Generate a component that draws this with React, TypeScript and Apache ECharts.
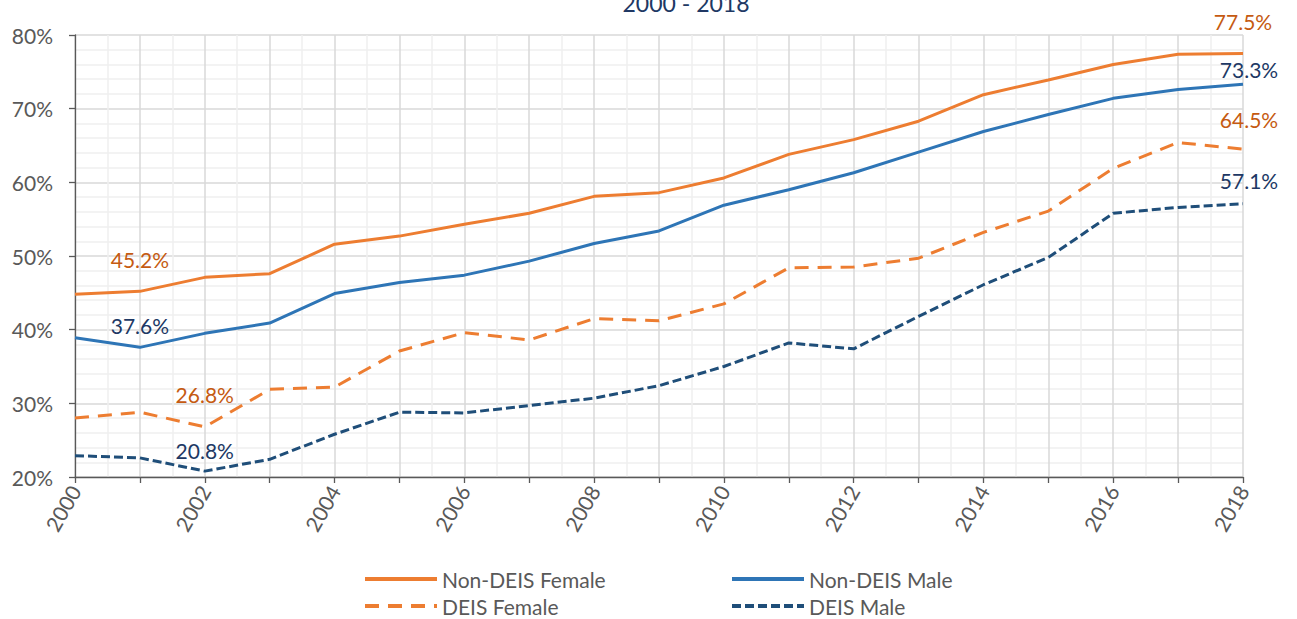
import React, { useEffect, useRef } from "react";
import * as echarts from "echarts";

const years = [2000, 2001, 2002, 2003, 2004, 2005, 2006, 2007, 2008, 2009, 2010, 2011, 2012, 2013, 2014, 2015, 2016, 2017, 2018];

const nonDeisFemale = [44.8, 45.2, 47.1, 47.6, 51.6, 52.7, 54.3, 55.8, 58.1, 58.6, 60.6, 63.8, 65.8, 68.3, 71.9, 73.9, 76.0, 77.4, 77.5];
const nonDeisMale = [38.9, 37.6, 39.5, 40.9, 44.9, 46.4, 47.4, 49.3, 51.7, 53.4, 56.9, 59.0, 61.3, 64.1, 66.9, 69.2, 71.4, 72.6, 73.3];
const deisFemale = [28.0, 28.8, 26.8, 31.9, 32.2, 37.1, 39.6, 38.6, 41.5, 41.2, 43.5, 48.4, 48.5, 49.7, 53.2, 56.1, 61.9, 65.4, 64.5];
const deisMale = [22.9, 22.6, 20.8, 22.4, 25.8, 28.8, 28.7, 29.7, 30.7, 32.4, 35.0, 38.2, 37.4, 41.8, 46.1, 49.8, 55.8, 56.6, 57.1];

const seriesNames = ["Non-DEIS Female", "Non-DEIS Male", "DEIS Female", "DEIS Male"];
const yTicks = [20, 30, 40, 50, 60, 70, 80];
const titleText = "2000 - 2018";

// which points carry a value label (series index -> years)
const labelledYears: Record<number, number[]> = {
  0: [2001, 2018],
  1: [2001, 2018],
  2: [2002, 2018],
  3: [2002, 2018],
};

// label placement styling (offsets in px)
const labelOffsets: Record<string, [number, number]> = {
  "0-2001": [0, -21],
  "1-2001": [0, -11],
  "2-2002": [0, -21],
  "3-2002": [0, -10],
  "0-2018": [0, -21],
  "1-2018": [6, -4],
  "2-2018": [6, -19],
  "3-2018": [6, -12],
};

const FONT = "Lato, 'Open Sans', sans-serif";

export default function App() {
  const ref = useRef<HTMLDivElement>(null);

  useEffect(() => {
    if (!ref.current) return;
    const chart = echarts.init(ref.current, undefined, { renderer: "svg" });

    const values = [nonDeisFemale, nonDeisMale, deisFemale, deisMale];
    const lineColors = ["#ED7D31", "#2E75B6", "#ED7D31", "#1F4E79"];
    const labelColors = ["#C55A11", "#203864", "#C55A11", "#203864"];
    const lineTypes: any[] = ["solid", "solid", [14, 9], [9, 4]];

    const lineSeries = values.map((vals, si) => ({
      name: seriesNames[si],
      type: "line",
      symbol: "none",
      showSymbol: false,
      z: 10 - si,
      lineStyle: { color: lineColors[si], width: 3, type: lineTypes[si], cap: "butt" },
      itemStyle: { color: lineColors[si] },
      data: vals.map((v, i) => [years[i], v]),
    }));

    const labelSeries = values.map((vals, si) => ({
      name: `labels-${si}`,
      type: "scatter",
      symbolSize: 0,
      silent: true,
      z: 20,
      itemStyle: { color: lineColors[si], opacity: 1 },
      data: vals
        .map((v, i) => ({ yr: years[i], v }))
        .filter((d) => labelledYears[si].includes(d.yr))
        .map((d) => ({
          value: [d.yr, d.v],
          label: {
            show: true,
            position: "top",
            distance: 0,
            offset: labelOffsets[`${si}-${d.yr}`] || [0, 0],
            formatter: () => `${d.v.toFixed(1)}%`,
            color: labelColors[si],
            opacity: 1,
            fontFamily: FONT,
            fontSize: 21,
            lineHeight: 22,
          },
        })),
    }));

    const legendPos = [
      { left: 358, top: 563 },
      { left: 725, top: 563 },
      { left: 358, top: 590 },
      { left: 725, top: 590 },
    ];

    chart.setOption({
      animation: false,
      backgroundColor: "#ffffff",
      textStyle: { fontFamily: FONT },
      graphic: [
        {
          type: "text",
          x: 686,
          y: 14,
          style: {
            text: titleText,
            fill: "#203864",
            font: `23px ${FONT}`,
            textAlign: "center",
            textVerticalAlign: "bottom",
          },
        },
      ],
      legend: seriesNames.map((n, i) => ({
        data: [n],
        left: legendPos[i].left,
        top: legendPos[i].top,
        itemWidth: 72,
        itemHeight: 14,
        itemGap: 0,
        selectedMode: false,
        itemStyle: { opacity: 0 },
        lineStyle: { width: 4 },
        textStyle: { color: "#595959", fontSize: 21, fontFamily: FONT, lineHeight: 22 },
      })),
      grid: { left: 75, right: 54, top: 35, bottom: 142, containLabel: false },
      xAxis: {
        type: "value",
        min: years[0],
        max: years[years.length - 1],
        interval: 1,
        axisLine: { show: true, lineStyle: { color: "#595959", width: 1.3 } },
        axisTick: { show: true, length: 6, lineStyle: { color: "#595959", width: 1.3 } },
        axisLabel: {
          rotate: 60,
          margin: 10,
          color: "#595959",
          fontSize: 21,
          fontFamily: FONT,
          formatter: (v: number) => (v % 2 === 0 ? String(v) : ""),
        },
        splitLine: { show: true, lineStyle: { color: "#d9d9d9", width: 1.5 } },
        minorTick: { show: false, splitNumber: 2 },
        minorSplitLine: { show: true, lineStyle: { color: "#efefef", width: 1.5 } },
      },
      yAxis: {
        type: "value",
        min: yTicks[0],
        max: yTicks[yTicks.length - 1],
        interval: 10,
        axisLine: { show: true, lineStyle: { color: "#595959", width: 1.3 } },
        axisTick: { show: true, length: 6, lineStyle: { color: "#595959", width: 1.3 } },
        axisLabel: {
          margin: 22,
          color: "#595959",
          fontSize: 21,
          fontFamily: FONT,
          formatter: (v: number) => `${v}%`,
        },
        splitLine: { show: true, lineStyle: { color: "#d9d9d9", width: 1.5 } },
        minorTick: { show: false, splitNumber: 5 },
        minorSplitLine: { show: true, lineStyle: { color: "#efefef", width: 1.5 } },
      },
      series: [...lineSeries, ...labelSeries],
    });

    return () => chart.dispose();
  }, []);

  return (
    <div
      ref={ref}
      style={{ position: "fixed", left: 0, top: 0, width: 1297, height: 619, background: "#fff" }}
    />
  );
}
